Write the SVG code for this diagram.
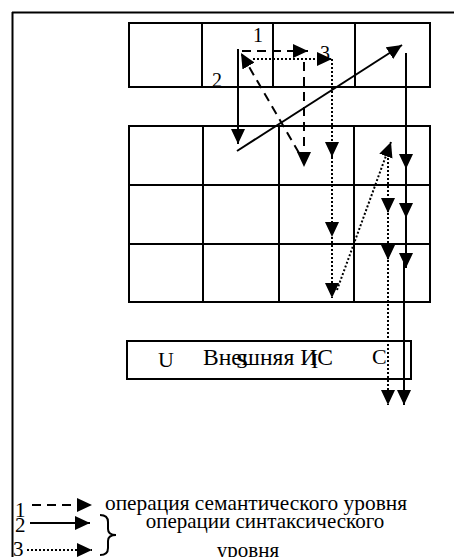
<svg xmlns="http://www.w3.org/2000/svg" width="454" height="557" viewBox="0 0 454 557">
<style>
.cell{fill:none;stroke:#000;stroke-width:2}
.t{font-family:"Liberation Serif","Times New Roman",serif;fill:#000}
.s{fill:none;stroke:#000;stroke-width:2}
.d{fill:none;stroke:#000;stroke-width:2;stroke-dasharray:9 6}
.o{fill:none;stroke:#000;stroke-width:2;stroke-dasharray:2 2}
</style>
<defs>
<marker id="ah" markerUnits="userSpaceOnUse" markerWidth="16" markerHeight="16" refX="15" refY="7" orient="auto">
<path d="M0,0 L15,7 L0,14 z" fill="#000"/>
</marker>
</defs>
<rect width="454" height="557" fill="#fff"/>
<g id="frame">
<line x1="12" y1="12.5" x2="454" y2="12.5" stroke="#000" stroke-width="2"/>
<line x1="12.5" y1="12" x2="12.5" y2="557" stroke="#000" stroke-width="2"/>
</g>
<g id="top-row">
<rect class="cell" x="129" y="23" width="301" height="64"/>
<line class="cell" x1="202" y1="23" x2="202" y2="87"/>
<line class="cell" x1="273" y1="23" x2="273" y2="87"/>
<line class="cell" x1="355" y1="23" x2="355" y2="87"/>
</g>
<g id="grid">
<rect class="cell" x="129" y="126" width="301" height="176"/>
<line class="cell" x1="129" y1="185" x2="430" y2="185"/>
<line class="cell" x1="129" y1="244" x2="430" y2="244"/>
<line class="cell" x1="203" y1="126" x2="203" y2="302"/>
<line class="cell" x1="279" y1="126" x2="279" y2="302"/>
<line class="cell" x1="354" y1="126" x2="354" y2="302"/>
</g>
<g id="external-is">
<rect class="cell" x="127" y="341" width="284" height="38"/>
<text class="t" x="158" y="367" font-size="22">U</text>
<text class="t" x="203" y="365" font-size="23" textLength="130" lengthAdjust="spacingAndGlyphs">Внешняя ИС</text>
<text class="t" x="236" y="368" font-size="22">S</text>
<text class="t" x="311" y="368" font-size="22">I</text>
<text class="t" x="372" y="364" font-size="22">C</text>
</g>
<g id="labels">
<text class="t" x="253" y="42" font-size="20">1</text>
<text class="t" x="212" y="87" font-size="20">2</text>
<text class="t" x="320" y="60" font-size="20">3</text>
</g>
<g id="connectors">
<path class="s" d="M238,49 V144" marker-end="url(#ah)"/>
<path class="s" d="M237,151 L402,45" marker-end="url(#ah)"/>
<path class="s" d="M406,53 V169" marker-end="url(#ah)"/>
<path class="s" d="M406,169 V218" marker-end="url(#ah)"/>
<path class="s" d="M406,218 V268" marker-end="url(#ah)"/>
<path class="s" d="M404,262 V405" marker-end="url(#ah)"/>
<path class="d" d="M242,51 H308" marker-end="url(#ah)"/>
<path class="d" d="M304,62 V167" marker-end="url(#ah)"/>
<path class="d" d="M299,153 L241,53" marker-end="url(#ah)"/>
<path class="o" d="M253,59 H332" marker-end="url(#ah)"/>
<path class="o" d="M332,59 V157" marker-end="url(#ah)"/>
<path class="o" d="M332,157 V237" marker-end="url(#ah)"/>
<path class="o" d="M332,237 V298" marker-end="url(#ah)"/>
<path class="o" d="M337,290 L391,142" marker-end="url(#ah)"/>
<path class="o" d="M388,150 V213" marker-end="url(#ah)"/>
<path class="o" d="M388,213 V260" marker-end="url(#ah)"/>
<path class="o" d="M388,260 V405" marker-end="url(#ah)"/>
</g>
<g id="legend">
<text class="t" x="15" y="517" font-size="21">1</text>
<path class="d" d="M32,505 H92" marker-end="url(#ah)"/>
<text class="t" x="15" y="532" font-size="21">2</text>
<path class="s" d="M30,523 H90" marker-end="url(#ah)"/>
<text class="t" x="13" y="556" font-size="21">3</text>
<path class="o" d="M27,550 H92" marker-end="url(#ah)"/>
<path class="s" d="M100,515 Q108,515 108,522 V529 Q108,535 116,535 Q108,535 108,541 V548 Q108,555 100,555"/>
<text class="t" x="105" y="510" font-size="21" textLength="302" lengthAdjust="spacingAndGlyphs">операция семантического уровня</text>
<text class="t" x="265" y="528" font-size="21" text-anchor="middle">операции синтаксического</text>
<text class="t" x="248" y="557" font-size="21" text-anchor="middle">уровня</text>
</g>
</svg>
